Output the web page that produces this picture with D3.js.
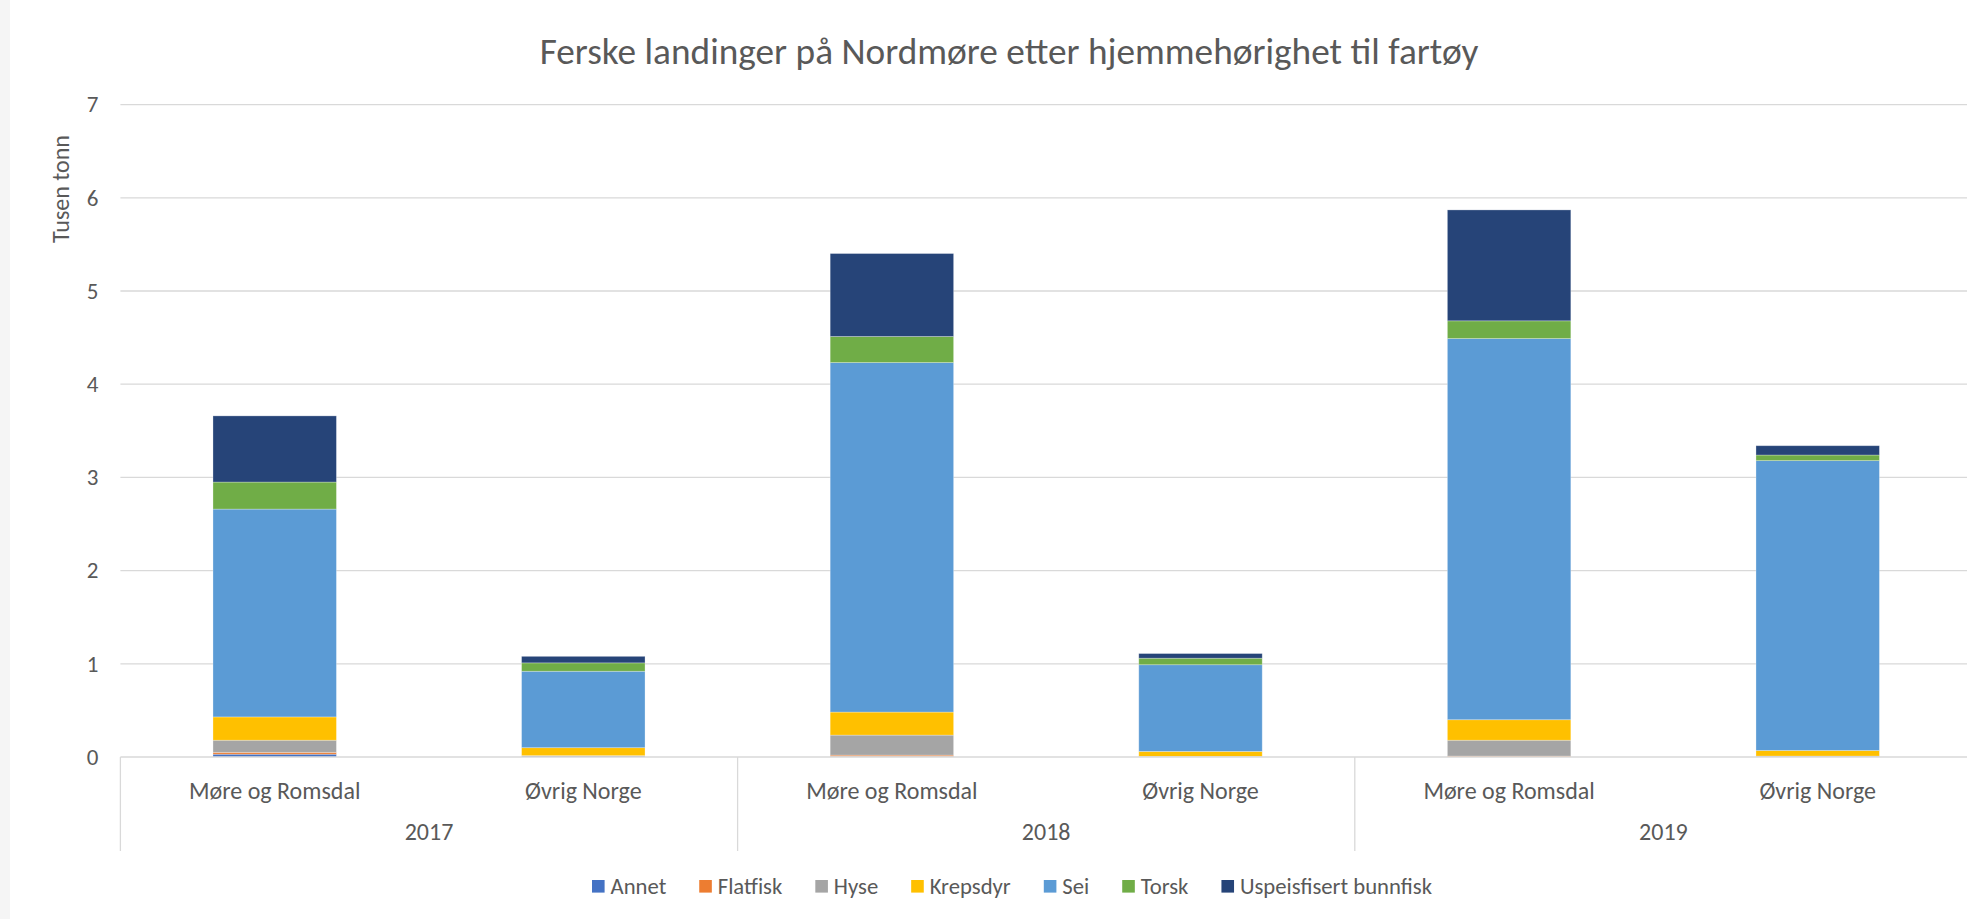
<!DOCTYPE html>
<html lang="no">
<head>
  <meta charset="utf-8" />
  <script src="https://cdnjs.cloudflare.com/ajax/libs/d3/7.8.5/d3.min.js"></script>
  <title>Ferske landinger på Nordmøre etter hjemmehørighet til fartøy</title>
  <style>
    body { margin: 0; background: #fff; }
    svg text { font-family: Carlito, Calibri, Lato, sans-serif; fill: #595959; }
  </style>
</head>
<body>
<svg width="1967" height="919"></svg>
<script>
// years (outer axis) and vessel home region (inner axis)
var years = ["2017", "2018", "2019"];
var regions = ["Møre og Romsdal", "Øvrig Norge"];
var species = ["Annet", "Flatfisk", "Hyse", "Krepsdyr", "Sei", "Torsk", "Uspeisfisert bunnfisk"];
var colors = ["#4472c4", "#ed7d31", "#a5a5a5", "#ffc000", "#5b9bd5", "#70ad47", "#264478"];

// thousand tonnes, order: 2017 MR, 2017 ØN, 2018 MR, 2018 ØN, 2019 MR, 2019 ØN
var annet    = [0.03, 0,     0.005, 0,     0,    0];
var flatfisk = [0.02, 0,     0.015, 0,     0.01, 0];
var hyse     = [0.13, 0.015, 0.215, 0.005, 0.17, 0.01];
var krepsdyr = [0.25, 0.085, 0.247, 0.055, 0.22, 0.06];
var sei      = [2.23, 0.82,  3.75,  0.93,  4.09, 3.11];
var torsk    = [0.29, 0.09,  0.28,  0.07,  0.19, 0.06];
var uspes    = [0.71, 0.07,  0.89,  0.05,  1.19, 0.10];

var yTicks = [0, 1, 2, 3, 4, 5, 6, 7];

var svg = d3.select("svg");
var plotLeft = 120.4, plotRight = plotLeft + 3 * 617.2, plotTop = 104.6, plotBottom = 757;

// rows for the stack
var series = [annet, flatfisk, hyse, krepsdyr, sei, torsk, uspes];
var rows = [];
years.forEach(function(yr, i) {
  regions.forEach(function(rg, j) {
    var k = i * 2 + j;
    var row = { year: yr, region: rg };
    species.forEach(function(s, si) { row[s] = series[si][k]; });
    rows.push(row);
  });
});

var x0 = d3.scaleBand().domain(years).range([plotLeft, plotRight]);
var x1 = d3.scaleBand().domain(regions).range([0, x0.bandwidth()])
  .paddingInner(0.6).paddingOuter(0.3);
var y = d3.scaleLinear().domain([0, 7]).range([plotBottom, plotTop]);

// light strip at the far left edge
svg.append("rect").attr("x", 0).attr("y", 0).attr("width", 10).attr("height", 919).attr("fill", "#f5f5f5");

// title
svg.append("text")
  .attr("x", 1009).attr("y", 64)
  .attr("text-anchor", "middle")
  .style("font-size", "37.3px")
  .text("Ferske landinger på Nordmøre etter hjemmehørighet til fartøy");

// gridlines
svg.append("g").selectAll("line")
  .data(yTicks.slice(1))
  .enter().append("line")
  .attr("x1", plotLeft).attr("x2", plotRight)
  .attr("y1", function(d) { return y(d); })
  .attr("y2", function(d) { return y(d); })
  .attr("stroke", "#d9d9d9").attr("stroke-width", 1.3);

// y axis labels
var yAxis = d3.axisLeft(y).tickValues(yTicks).tickFormat(d3.format("d")).tickSize(0).tickPadding(22);
svg.append("g")
  .attr("transform", "translate(" + plotLeft + ",0)")
  .call(yAxis)
  .call(function(g) { g.select(".domain").remove(); })
  .selectAll("text")
  .style("font-size", "23px").attr("fill", "#595959");

svg.append("text")
  .attr("transform", "translate(69,189) rotate(-90)")
  .attr("text-anchor", "middle")
  .style("font-size", "24px")
  .text("Tusen tonn");

// stacked bars
var stack = d3.stack().keys(species);
var layers = stack(rows);

svg.append("g").selectAll("g")
  .data(layers)
  .enter().append("g")
  .attr("fill", function(d, i) { return colors[i]; })
  .selectAll("rect")
  .data(function(d) { return d; })
  .enter().append("rect")
  .attr("x", function(d) { return x0(d.data.year) + x1(d.data.region); })
  .attr("width", x1.bandwidth())
  .attr("y", function(d) { return y(d[1]); })
  .attr("height", function(d) { return Math.max(0, y(d[0]) - y(d[1])); })
  .attr("stroke", "#ffffff").attr("stroke-opacity", 0.35).attr("stroke-width", 0.8);

// category axis: baseline and group dividers
svg.append("line")
  .attr("x1", plotLeft).attr("x2", plotRight)
  .attr("y1", plotBottom).attr("y2", plotBottom)
  .attr("stroke", "#d9d9d9").attr("stroke-width", 1.3);

svg.append("g").selectAll("line")
  .data(years.concat(["end"]))
  .enter().append("line")
  .attr("x1", function(d) { return d === "end" ? plotRight : x0(d); })
  .attr("x2", function(d) { return d === "end" ? plotRight : x0(d); })
  .attr("y1", plotBottom).attr("y2", 851)
  .attr("stroke", "#d9d9d9").attr("stroke-width", 1.3);

years.forEach(function(yr) {
  regions.forEach(function(rg) {
    svg.append("text")
      .attr("x", x0(yr) + x1(rg) + x1.bandwidth() / 2)
      .attr("y", 799)
      .attr("text-anchor", "middle")
      .style("font-size", "24px")
      .text(rg);
  });
  svg.append("text")
    .attr("x", x0(yr) + x0.bandwidth() / 2)
    .attr("y", 840)
    .attr("text-anchor", "middle")
    .style("font-size", "24px")
    .text(yr);
});

// legend, centered
var legend = svg.append("g");
var lx = 0;
species.forEach(function(s, i) {
  var item = legend.append("g").attr("transform", "translate(" + lx + ",0)");
  item.append("rect").attr("x", 0).attr("y", -6).attr("width", 12.6).attr("height", 12.6).attr("fill", colors[i]);
  var t = item.append("text").attr("x", 18.5).attr("y", 7.5).style("font-size", "22.7px").text(s);
  lx += 18.5 + t.node().getComputedTextLength() + 33;
});
lx -= 33;
legend.attr("transform", "translate(" + (1012 - lx / 2) + ",886)");
</script>
</body>
</html>
